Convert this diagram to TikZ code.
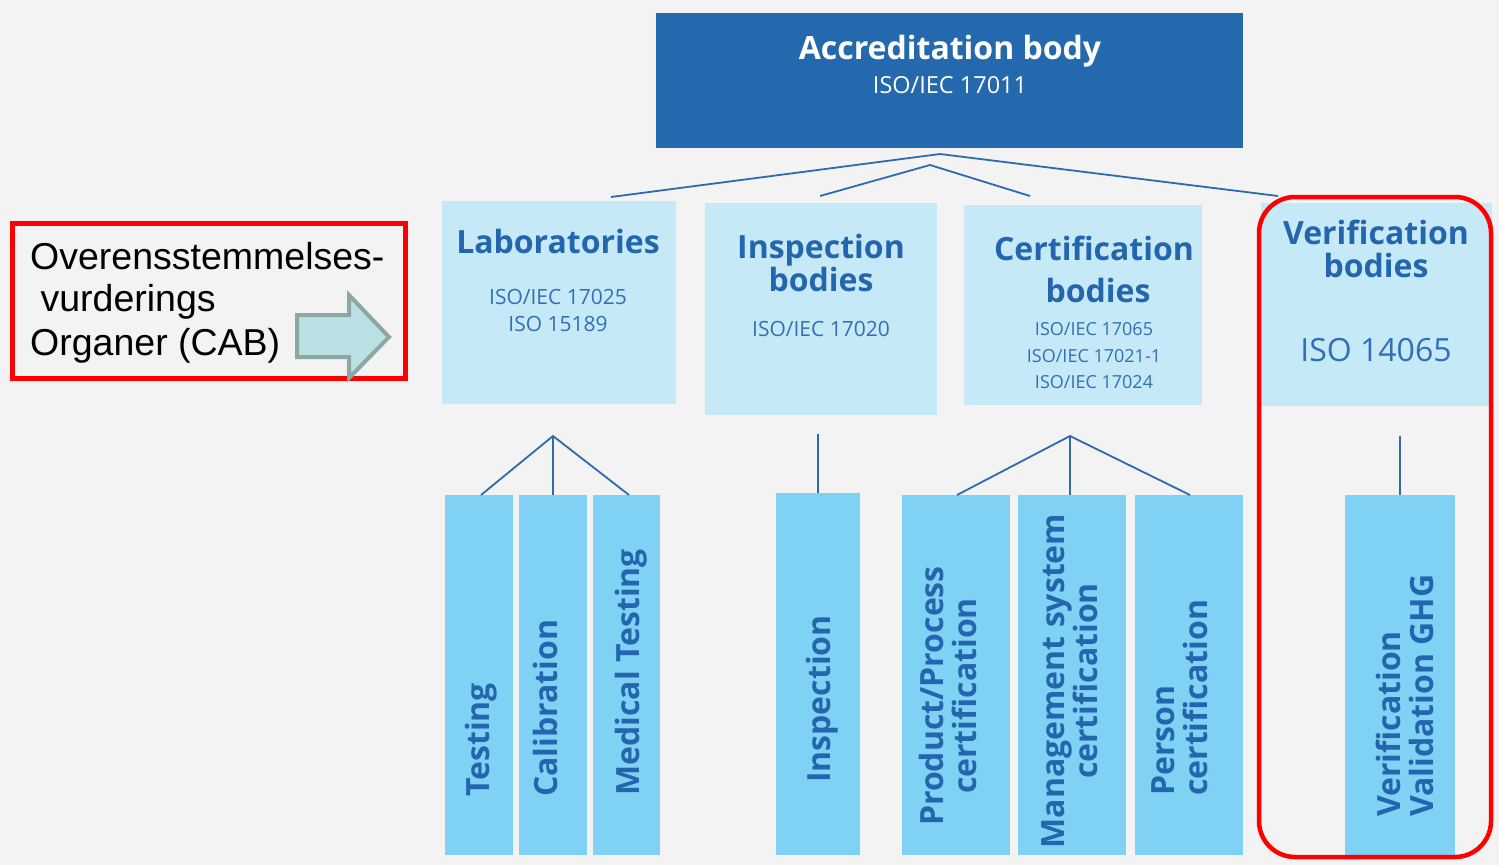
\documentclass[tikz,border=0pt]{standalone}
\usepackage{fontspec}
\setmainfont{Open Sans}
\newfontfamily\arialf{Liberation Sans}
\definecolor{bg}{HTML}{F3F3F3}
\definecolor{darkbox}{HTML}{2469AE}
\definecolor{lightbox}{HTML}{C6E9F8}
\definecolor{midbox}{HTML}{7FD2F4}
\definecolor{txtblue}{HTML}{2466AE}
\definecolor{stdblue}{HTML}{3070B5}
\definecolor{lineblue}{HTML}{2D6AAE}
\definecolor{redline}{HTML}{FF0000}
\definecolor{arrowfill}{HTML}{BAE0E3}
\definecolor{arrowline}{HTML}{8DA6A6}
\tikzset{
  topbox/.style={fill=darkbox, draw=none, anchor=north west, inner sep=0pt},
  lbox/.style={fill=lightbox, draw=none, anchor=north west, inner sep=0pt},
  vbox/.style={fill=midbox, draw=none, anchor=north west, inner sep=0pt},
  conn/.style={draw=lineblue, line width=1.8pt},
  hdr/.style={text=txtblue, font=\bfseries\fontsize{32}{33}\selectfont, align=center, inner sep=0pt},
  stdtxt/.style={text=stdblue, font=\fontsize{21}{27}\selectfont, align=center, inner sep=0pt},
  vtxt/.style={text=txtblue, font=\bfseries\fontsize{32}{33}\selectfont, rotate=90, inner sep=0pt},
  cabtxt/.style={font=\arialf\fontsize{37.5}{44}\selectfont, anchor=west, inner sep=0pt},
  redframe/.style={draw=redline, line width=4.5pt},
}
\begin{document}
\begin{tikzpicture}[x=1pt,y=-1pt]
\useasboundingbox (0,0) rectangle (1499,865);
\fill[bg] (0,0) rectangle (1499,865);

% boxes
\node[topbox, minimum width=587, minimum height=135] (acc) at (656,13) {};
\node[lbox, minimum width=234, minimum height=203] (lab) at (442,201) {};
\node[lbox, minimum width=232, minimum height=212] (insp) at (705,203) {};
\node[lbox, minimum width=238, minimum height=200] (cert) at (964,205) {};
\node[lbox, minimum width=231, minimum height=203] (verif) at (1261,203) {};

\node[vbox, minimum width=68, minimum height=360] (testing) at (445,495) {};
\node[vbox, minimum width=68, minimum height=360] (calib) at (519,495) {};
\node[vbox, minimum width=67, minimum height=360] (medical) at (593,495) {};
\node[vbox, minimum width=84, minimum height=362] (inspection) at (776,493) {};
\node[vbox, minimum width=108, minimum height=360] (product) at (902,495) {};
\node[vbox, minimum width=108, minimum height=360] (mgmt) at (1018,495) {};
\node[vbox, minimum width=108, minimum height=360] (person) at (1135,495) {};
\node[vbox, minimum width=110, minimum height=360] (vv) at (1345,495) {};

% connectors
\coordinate (apexA) at (940,154);
\coordinate (apexB) at (930,165);
\coordinate (labIn) at (611,197);
\coordinate (verIn) at (1278,196);
\coordinate (inspIn) at (820,196);
\coordinate (certIn) at (1030,196);
\draw[conn] (labIn) -- (apexA) -- (verIn);
\draw[conn] (inspIn) -- (apexB) -- (certIn);

\coordinate (labApex) at (553,436);
\coordinate (tA) at (481,495);
\coordinate (cA) at (553,495);
\coordinate (mA) at (629,495);
\draw[conn] (tA) -- (labApex) -- (mA);
\draw[conn] (labApex) -- (cA);

\coordinate (inspTop) at (818,434);
\draw[conn] (inspTop) -- (inspection.north west -| inspTop);

\coordinate (certApex) at (1070,436);
\coordinate (pA) at (957,495);
\coordinate (gA) at (1070,495);
\coordinate (eA) at (1190,495);
\draw[conn] (pA) -- (certApex) -- (eA);
\draw[conn] (certApex) -- (gA);

\coordinate (verTop) at (1400,436);
\draw[conn] (verTop) -- (vv.north west -| verTop);

% texts top
\node[text=white, font=\bfseries\fontsize{32}{33}\selectfont, inner sep=0pt] (accT) at (950,51) {Accreditation body};
\node[text=white, font=\fontsize{23.5}{26}\selectfont, inner sep=0pt] (accS) at (950,85) {ISO/IEC 17011};

\node[hdr] (labT) at (558,241) {Laboratories};
\node[stdtxt] (labS) at (558,310) {ISO/IEC 17025\\ISO 15189};

\node[hdr] (inspT) at (821,263) {Inspection\\bodies};
\node[stdtxt] (inspS) at (821,329) {ISO/IEC 17020};

\node[hdr] (certT1) at (1094,248) {Certification};
\node[hdr] (certT2) at (1098,290) {bodies};
\node[text=stdblue, font=\fontsize{18}{26.5}\selectfont, align=center, inner sep=0pt] (certS) at (1094,356) {ISO/IEC 17065\\ISO/IEC 17021-1\\ISO/IEC 17024};

\node[hdr] (verT) at (1376,249) {Verification\\bodies};
\node[text=stdblue, font=\fontsize{32}{36}\selectfont, inner sep=0pt] (verS) at (1376,350) {ISO 14065};

% vertical texts
\node[vtxt, anchor=west] (t1) at (481,797) {Testing};
\node[vtxt, anchor=west] (t2) at (545,797) {Calibration};
\node[vtxt, anchor=west] (t3) at (631,796) {Medical Testing};
\node[vtxt, anchor=west] (t4) at (822,783) {Inspection};
\node[vtxt, align=center] (t5) at (948,696) {Product/Process\\certification};
\node[vtxt, align=center] (t6) at (1070,681) {Management system\\certification};
\node[vtxt, align=left, anchor=west] (t7) at (1180,796) {Person\\certification};
\node[vtxt, align=left, anchor=west] (t8) at (1405,817) {Verification\\Validation GHG};

% left CAB frame
\draw[redframe, line width=5pt] (12,223) rectangle (405,378);
\node[cabtxt] (cab1) at (30,256) {Overensstemmelses-};
\node[cabtxt] (cab2) at (30,302) {\ vurderings};
\node[cabtxt] (cab3) at (30,346) {Organer (CAB)};
\draw[fill=arrowfill, draw=arrowline, line width=4pt, line join=miter]
  (297,315) -- (349,315) -- (349,295) -- (389,337) -- (349,378) -- (349,357) -- (297,357) -- cycle;

% verification frame
\draw[redframe, rounded corners=36pt] (1259,197) rectangle (1491,857);
\end{tikzpicture}
\end{document}
